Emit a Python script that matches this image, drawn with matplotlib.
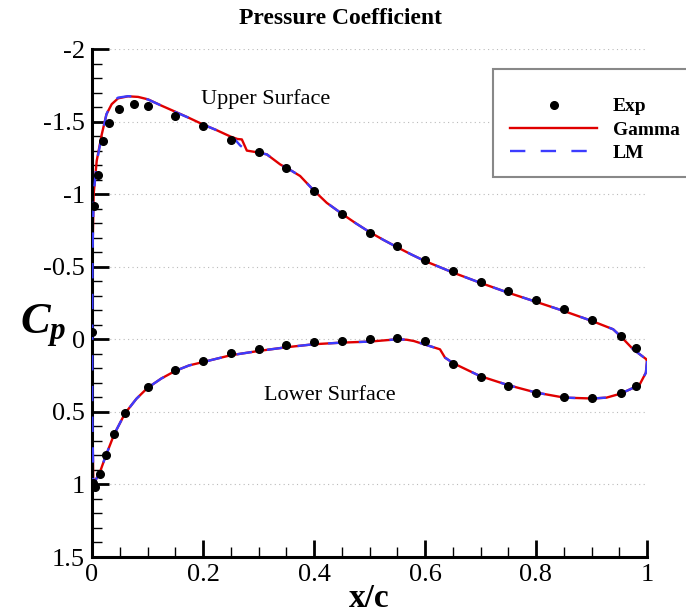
import matplotlib
matplotlib.use("Agg")
from matplotlib import pyplot as plt
from matplotlib.ticker import MultipleLocator
from matplotlib.patches import Rectangle

plt.rcParams['font.family'] = ['Liberation Serif', 'DejaVu Serif']
plt.rcParams['mathtext.fontset'] = 'custom'
plt.rcParams['mathtext.it'] = 'Liberation Serif:italic:bold'
plt.rcParams['mathtext.rm'] = 'Liberation Serif:bold'

# experiment (upper surface, then lower surface)
exp_x = [0.0, 0.004, 0.011, 0.02, 0.031, 0.049, 0.076, 0.1, 0.15, 0.2, 0.25, 0.3,
         0.35, 0.4, 0.45, 0.5, 0.55, 0.6, 0.65, 0.7, 0.75, 0.8, 0.85, 0.9, 0.953, 0.98,
         0.002, 0.005, 0.0144, 0.025, 0.04, 0.0595, 0.1, 0.15, 0.2, 0.25, 0.3, 0.35,
         0.4, 0.45, 0.5, 0.55, 0.6, 0.65, 0.7, 0.75, 0.8, 0.85, 0.9, 0.953, 0.98]
exp_cp = [-0.05, -0.918, -1.13, -1.366, -1.49, -1.59, -1.62, -1.61, -1.54, -1.47, -1.373, -1.293,
          -1.18, -1.02, -0.863, -0.735, -0.645, -0.547, -0.468, -0.397, -0.33, -0.27, -0.207, -0.131, -0.023, 0.057,
          0.99, 1.017, 0.925, 0.8, 0.65, 0.505, 0.33, 0.21, 0.147, 0.093, 0.064, 0.039,
          0.018, 0.009, 0.0, -0.011, 0.014, 0.168, 0.262, 0.321, 0.367, 0.397, 0.406, 0.372, 0.321]

# Gamma model
gam_x_up = [0.0024, 0.0005, 0.0006, 0.001, 0.003, 0.0085, 0.0175, 0.026, 0.0355, 0.047, 0.065, 0.083,
            0.101, 0.125, 0.15, 0.175, 0.2, 0.225, 0.25, 0.262, 0.27, 0.279, 0.295, 0.315, 0.339, 0.36,
            0.375, 0.399, 0.423, 0.451, 0.475, 0.5, 0.525, 0.551, 0.575, 0.6, 0.651, 0.699, 0.75, 0.801,
            0.85, 0.901, 0.939, 0.953, 0.975, 0.999, 1.0]
gam_cp_up = [1.0, 0.5, -0.2, -0.6, -1.0, -1.23, -1.41, -1.55, -1.62, -1.66, -1.674, -1.67,
             -1.653, -1.61, -1.568, -1.525, -1.48, -1.44, -1.396, -1.38, -1.377, -1.30, -1.29, -1.274, -1.205, -1.16,
             -1.125, -1.028, -0.94, -0.863, -0.80, -0.739, -0.685, -0.632, -0.585, -0.539, -0.459, -0.39, -0.321, -0.257,
             -0.195, -0.126, -0.069, -0.019, 0.069, 0.138, 0.15]
gam_x_lo = [0.0024, 0.0144, 0.0247, 0.04, 0.0595, 0.08, 0.1, 0.125, 0.15, 0.175, 0.201, 0.25,
            0.301, 0.35, 0.4, 0.45, 0.5, 0.55, 0.567, 0.58, 0.598, 0.627, 0.636, 0.651, 0.699, 0.749,
            0.8, 0.851, 0.902, 0.927, 0.953, 0.98, 0.987, 0.998, 1.0]
gam_cp_lo = [1.0, 0.914, 0.804, 0.654, 0.51, 0.41, 0.335, 0.27, 0.218, 0.18, 0.156, 0.11,
             0.08, 0.055, 0.034, 0.023, 0.016, 0.0, 0.003, 0.012, 0.034, 0.069, 0.126, 0.165, 0.253, 0.315,
             0.367, 0.402, 0.408, 0.402, 0.374, 0.326, 0.31, 0.23, 0.15]

# LM model
lm_x_up = [0.0024, 0.0005, 0.0006, 0.001, 0.003, 0.0085, 0.0175, 0.026, 0.0355, 0.047, 0.065, 0.083,
           0.101, 0.125, 0.15, 0.175, 0.2, 0.225, 0.25, 0.258, 0.267, 0.279, 0.295, 0.315, 0.339, 0.36,
           0.375, 0.399, 0.423, 0.451, 0.475, 0.5, 0.525, 0.551, 0.575, 0.6, 0.651, 0.699, 0.75, 0.801,
           0.85, 0.901, 0.939, 0.953, 0.975, 0.999, 1.0]
lm_cp_up = [1.0, 0.5, -0.2, -0.6, -1.0, -1.22, -1.40, -1.55, -1.63, -1.665, -1.675, -1.67,
            -1.652, -1.61, -1.566, -1.525, -1.48, -1.44, -1.39, -1.375, -1.335, -1.30, -1.29, -1.274, -1.205, -1.16,
            -1.125, -1.028, -0.94, -0.863, -0.80, -0.739, -0.685, -0.632, -0.585, -0.539, -0.459, -0.39, -0.321, -0.257,
            -0.195, -0.126, -0.069, -0.019, 0.069, 0.138, 0.15]
lm_x_lo = [0.0024, 0.0144, 0.0247, 0.04, 0.0595, 0.08, 0.1, 0.125, 0.15, 0.175, 0.201, 0.25,
           0.301, 0.35, 0.4, 0.45, 0.5, 0.55, 0.567, 0.58, 0.598, 0.627, 0.636, 0.651, 0.699, 0.749,
           0.8, 0.851, 0.902, 0.927, 0.953, 0.98, 0.987, 0.998, 1.0]
lm_cp_lo = [1.0, 0.914, 0.804, 0.654, 0.51, 0.41, 0.335, 0.27, 0.218, 0.18, 0.156, 0.11,
            0.08, 0.055, 0.034, 0.023, 0.016, 0.0, 0.003, 0.012, 0.034, 0.069, 0.126, 0.165, 0.253, 0.315,
            0.367, 0.402, 0.408, 0.402, 0.374, 0.326, 0.31, 0.23, 0.15]

xticks = [0, 0.2, 0.4, 0.6, 0.8, 1]
xticklabels = ["0", "0.2", "0.4", "0.6", "0.8", "1"]
yticks = [-2, -1.5, -1, -0.5, 0, 0.5, 1, 1.5]
yticklabels = ["-2", "-1.5", "-1", "-0.5", "0", "0.5", "1", "1.5"]

fig = plt.figure(figsize=(6.86, 6.13), dpi=100)
ax = fig.add_axes([92 / 686, 1 - 557 / 613, 555 / 686, 508 / 613])

# closed loop: lower surface from TE to LE, then upper surface LE to TE
ax.plot(gam_x_lo[::-1] + gam_x_up, gam_cp_lo[::-1] + gam_cp_up, color="#e00000", lw=1.7,
        label="Gamma", zorder=2)
ax.plot(lm_x_lo[::-1] + lm_x_up, lm_cp_lo[::-1] + lm_cp_up, color="#3c3cff", lw=1.7,
        dashes=(6.5, 6.5), label="LM", zorder=3)
ax.plot(exp_x, exp_cp, linestyle="none", marker="o", color="black", markersize=5.5,
        label="Exp", zorder=4)

ax.set_xlim(0, 1)
ax.set_ylim(1.5, -2)
ax.set_xticks(xticks)
ax.set_xticklabels(xticklabels)
ax.set_yticks(yticks)
ax.set_yticklabels(yticklabels)
ax.xaxis.set_minor_locator(MultipleLocator(0.05))
ax.yaxis.set_minor_locator(MultipleLocator(0.1))
ax.tick_params(which="major", direction="in", length=12, width=2, labelsize=19, pad=5)
ax.tick_params(which="minor", direction="in", length=7, width=1)
for s in ["top", "right"]:
    ax.spines[s].set_visible(False)
for s in ["left", "bottom"]:
    ax.spines[s].set_linewidth(2.2)
ax.yaxis.grid(True, which="major", linestyle=(0, (1, 3)), color="#bbbbbb", lw=0.8)

ax.text(0.312, -1.653, "Upper Surface", fontsize=16, ha="center", va="center")
ax.text(0.429, 0.386, "Lower Surface", fontsize=16, ha="center", va="center")

ax.set_xlabel("x/c", fontsize=24, fontweight="bold", va="top")
ax.xaxis.set_label_coords(0.5, -0.052)
ax.set_ylabel(r"$C_p$", fontsize=32, rotation=0, va="center", ha="center")
ax.yaxis.set_label_coords(-0.088, 0.455)
fig.text(0.496, 1 - 19 / 613, "Pressure Coefficient", fontsize=17, fontweight="bold",
         ha="center", va="center")

# legend box runs past the right edge of the figure
ax.add_patch(Rectangle((493 / 686, 1 - 177 / 613), 0.4, 108 / 613, transform=fig.transFigure,
                       facecolor="white", edgecolor="#888888", lw=1.5, clip_on=False, zorder=4.6))
handles, labels = ax.get_legend_handles_labels()
order = [2, 0, 1]
leg = ax.legend([handles[i] for i in order], [labels[i] for i in order],
                loc="upper left", bbox_to_anchor=(502 / 686, 1 - 90 / 613),
                bbox_transform=fig.transFigure, borderaxespad=0, numpoints=1,
                prop={"weight": "bold", "size": 14}, handlelength=4.5, handletextpad=0.8,
                labelspacing=0.3, borderpad=0.4, frameon=False)
leg.set_zorder(5)

fig.savefig("out.png", dpi=100)
